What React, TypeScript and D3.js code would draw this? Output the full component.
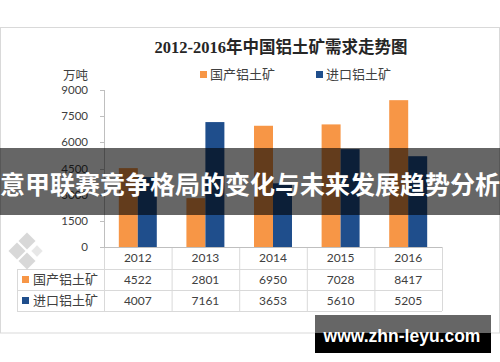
import { scaleBand, scaleLinear } from "d3";

const years = ["2012", "2013", "2014", "2015", "2016"];
const seriesNames = ["国产铝土矿", "进口铝土矿"];
const domestic = [4522, 2801, 6950, 7028, 8417];
const imported = [4007, 7161, 3653, 5610, 5205];
const yTicks = [0, 1500, 3000, 4500, 6000, 7500, 9000];
const colors = ["#F79646", "#1F4E8C"];

const title = "2012-2016年中国铝土矿需求走势图";
const unit = "万吨";
const banner = "意甲联赛竞争格局的变化与未来发展趋势分析";
const site = "www.zhn-leyu.com";

const W = 500;
const H = 362;
const plot = { left: 104, right: 442, top: 90, bottom: 247 };
const rowH = [22, 21, 21];
const tableLeft = 17;
const numFont = "Lato, 'Open Sans', 'Liberation Sans', sans-serif";
const cjkFont = "'Noto Sans CJK SC', sans-serif";

export default function App() {
  const x0 = scaleBand<string>().domain(years).range([plot.left, plot.right]).padding(0);
  const x1 = scaleBand<string>().domain(seriesNames).range([0, x0.bandwidth()]).paddingInner(0).paddingOuter(0.78);
  const y = scaleLinear().domain([0, 9000]).range([plot.bottom, plot.top]);
  const values = [domestic, imported];

  const rowTop = [plot.bottom, plot.bottom + rowH[0], plot.bottom + rowH[0] + rowH[1]];
  const tableBottom = rowTop[2] + rowH[2];
  const colEdges = [...years.map((yr) => x0(yr) ?? 0), plot.right];

  return (
    <svg width={W} height={H} style={{ position: "absolute", left: 0, top: 0, background: "#fff" }}>
      <rect x={0.5} y={27.5} width={499} height={305.5} fill="#fff" stroke="#d9d9d9" />

      <text x={281} y={53} textAnchor="middle" fontSize={16.5} fontWeight="bold" fill="#262626"
        fontFamily={"'Liberation Serif', 'Noto Sans CJK SC', serif"}>
        {title}
      </text>

      {/* legend */}
      {seriesNames.map((s, i) => (
        <g key={s} transform={`translate(${i === 0 ? 200 : 316}, 0)`}>
          <rect x={0} y={71} width={7} height={7} fill={colors[i]} />
          <text x={10} y={79} fontSize={13} fill="#404040" fontFamily={cjkFont}>{s}</text>
        </g>
      ))}

      <text x={88} y={80} textAnchor="end" fontSize={12.5} fill="#404040" fontFamily={cjkFont}>{unit}</text>

      {/* y axis */}
      <line x1={plot.left + 0.5} x2={plot.left + 0.5} y1={plot.top} y2={plot.bottom} stroke="#bfbfbf" />
      {yTicks.map((t) => (
        <g key={t}>
          <line x1={100} x2={plot.left} y1={Math.round(y(t)) + 0.5} y2={Math.round(y(t)) + 0.5} stroke="#bfbfbf" />
          <text x={88} y={y(t)} dy="0.35em" textAnchor="end" fontSize={11.5} fill="#404040" fontFamily={numFont}>
            {t}
          </text>
        </g>
      ))}

      {/* bars */}
      {years.map((yr, i) => (
        <g key={yr} transform={`translate(${x0(yr)}, 0)`}>
          {seriesNames.map((s, j) => (
            <rect key={s} x={x1(s)} y={y(values[j][i])} width={x1.bandwidth()}
              height={plot.bottom - y(values[j][i])} fill={colors[j]} />
          ))}
        </g>
      ))}

      {/* data table */}
      <g stroke="#d9d9d9" fill="none">
        {[rowTop[1], rowTop[2], tableBottom].map((ry) => (
          <line key={ry} x1={tableLeft} x2={plot.right} y1={ry + 0.5} y2={ry + 0.5} />
        ))}
        <line x1={tableLeft + 0.5} x2={tableLeft + 0.5} y1={rowTop[1]} y2={tableBottom} />
        {colEdges.map((cx) => (
          <line key={cx} x1={cx + 0.5} x2={cx + 0.5} y1={plot.bottom} y2={tableBottom} />
        ))}
      </g>
      <line x1={100} x2={plot.right} y1={plot.bottom + 0.5} y2={plot.bottom + 0.5} stroke="#bfbfbf" />

      {years.map((yr, i) => {
        const cx = (x0(yr) ?? 0) + x0.bandwidth() / 2;
        return (
          <g key={yr} textAnchor="middle" fontSize={12} fill="#404040" fontFamily={numFont}>
            <text x={cx} y={rowTop[0] + rowH[0] / 2} dy="0.35em">{yr}</text>
            <text x={cx} y={rowTop[1] + rowH[1] / 2} dy="0.35em">{domestic[i]}</text>
            <text x={cx} y={rowTop[2] + rowH[2] / 2} dy="0.35em">{imported[i]}</text>
          </g>
        );
      })}
      {seriesNames.map((s, j) => (
        <g key={s}>
          <rect x={22} y={rowTop[j + 1] + rowH[j + 1] / 2 - 3.5} width={7} height={7} fill={colors[j]} />
          <text x={33} y={rowTop[j + 1] + rowH[j + 1] / 2} dy="0.36em" fontSize={13} fill="#404040" fontFamily={cjkFont}>
            {s}
          </text>
        </g>
      ))}

      {/* faint watermark logo */}
      <g fill="#cfcfcf" opacity={0.8}>
        <rect x={-6} y={-6} width={12} height={12} transform="translate(27,241) rotate(45)" />
        <rect x={-6} y={-6} width={12} height={12} transform="translate(17,251) rotate(45)" />
        <rect x={-6} y={-6} width={12} height={12} transform="translate(27,261) rotate(45)" />
        <rect x={-4} y={-4} width={8} height={8} transform="translate(37,251) rotate(45)" opacity={0.6} />
      </g>

      {/* overlay banner */}
      <rect x={0} y={148} width={W} height={67} fill="rgba(0,0,0,0.6)" />
      <text x={250} y={185} dy="0.36em" textAnchor="middle" fontSize={25} fontWeight="bold" fill="#fff" fontFamily={cjkFont}>
        {banner}
      </text>

      {/* site badge */}
      <rect x={315} y={315} width={176} height={18} fill="#666" />
      <rect x={315} y={333} width={176} height={20} fill="#000" />
      <text x={402} y={342} textAnchor="middle" fontSize={17.5} fontWeight="bold" fill="#fff"
        fontFamily={"'Liberation Sans', Arial, sans-serif"}>
        {site}
      </text>
    </svg>
  );
}
